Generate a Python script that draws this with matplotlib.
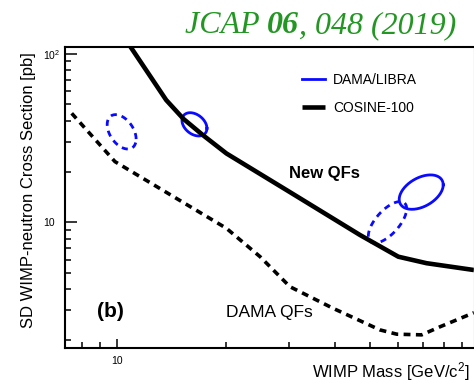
import numpy as np
import matplotlib
matplotlib.use("Agg")
import matplotlib.pyplot as plt
from matplotlib.ticker import FixedLocator, FixedFormatter, NullFormatter

plt.rcParams['font.family'] = ['Liberation Sans', 'DejaVu Sans']
plt.rcParams['mathtext.default'] = 'regular'

# COSINE-100 SD WIMP-neutron limit, new quenching factors (solid)
cosine_mass = [10.47, 13.7, 15.3, 17.3, 20.1, 30.1, 47.0, 60.0, 71.8, 97.1]
cosine_xsec = [125.6, 53.1, 41.0, 32.9, 25.6, 15.1, 8.41, 6.25, 5.72, 5.21]

# same limit with DAMA quenching factors (dashed)
damaqf_mass = [7.51, 9.89, 20.1, 24.9, 30.1, 39.6, 53.4, 59.4, 69.6, 78.2, 97.1]
damaqf_xsec = [44.3, 22.9, 9.21, 6.25, 4.15, 3.09, 2.30, 2.17, 2.15, 2.40, 2.91]

# DAMA/LIBRA allowed regions: centre, half-widths in decades, tilt (deg)
region_mass = [10.32, 16.4, 69.4, 56.0]
region_xsec = [34.4, 38.1, 15.1, 10.0]
region_rx = [0.040, 0.0345, 0.0608, 0.053]
region_ry = [0.102, 0.069, 0.102, 0.123]
region_phi = [115, 110, 65, 49]
region_dashed = [True, False, False, True]


def region_contour(m, s, rx, ry, phi):
    t = np.linspace(0, 2 * np.pi, 200)
    lx = np.log10(m) + rx * np.cos(t)
    ly = np.log10(s) + ry * np.cos(t - np.radians(phi))
    return 10 ** lx, 10 ** ly


fig = plt.figure(figsize=(4.74, 3.83), dpi=100)
ax = fig.add_axes([65 / 474, 1 - 347.5 / 383, 409 / 474, 300.8 / 383])
ax.set_xscale('log')
ax.set_yscale('log')

blue = '#0a0aff'
dama_handle = None
for i in range(len(region_mass)):
    xx, yy = region_contour(region_mass[i], region_xsec[i], region_rx[i],
                            region_ry[i], region_phi[i])
    if region_dashed[i]:
        ax.plot(xx, yy, color=blue, lw=2.0, linestyle=(0, (2.2, 1.8)))
    else:
        l, = ax.plot(xx, yy, color=blue, lw=2.0)
        dama_handle = l

cos_line, = ax.plot(cosine_mass, cosine_xsec, color='black', lw=3.3,
                    solid_capstyle='butt')
ax.plot(damaqf_mass, damaqf_xsec, color='black', lw=2.6,
        linestyle=(0, (1.9, 1.5)))

ax.set_xlim(7.197, 97.1)
ax.set_ylim(1.809, 110.0)

# ticks, ROOT style (inward)
ax.xaxis.set_major_locator(FixedLocator([10]))
ax.xaxis.set_major_formatter(FixedFormatter(['10']))
ax.xaxis.set_minor_locator(FixedLocator([8, 9, 20, 30, 40, 50, 60, 70, 80, 90]))
ax.xaxis.set_minor_formatter(NullFormatter())
ax.yaxis.set_major_locator(FixedLocator([10, 100]))
ax.yaxis.set_major_formatter(FixedFormatter(['10', '$10^2$']))
ax.yaxis.set_minor_locator(FixedLocator([2, 3, 4, 5, 6, 7, 8, 9,
                                         20, 30, 40, 50, 60, 70, 80, 90]))
ax.yaxis.set_minor_formatter(NullFormatter())

ax.tick_params(axis='both', which='both', direction='in', width=1.1,
               top=False, right=False, labelsize=7.5)
ax.tick_params(axis='x', which='major', length=6.5, pad=6)
ax.tick_params(axis='x', which='minor', length=4.0)
ax.tick_params(axis='y', which='major', length=8.5, pad=16)
ax.tick_params(axis='y', which='minor', length=4.5)
for lab in ax.get_yticklabels():
    lab.set_horizontalalignment('left')

for side in ['left', 'bottom', 'top']:
    ax.spines[side].set_linewidth(1.5)
ax.spines['right'].set_color('#d8d8d8')
ax.spines['right'].set_linewidth(1.0)

ax.set_ylabel('SD WIMP-neutron Cross Section [pb]', fontsize=12)
ax.yaxis.set_label_coords(-0.072, 0.524)
ax.set_xlabel('WIMP Mass [GeV/c$^2$]', fontsize=12, ha='right')
ax.xaxis.set_label_coords(0.99, -0.042)

ax.legend([dama_handle, cos_line], ['DAMA/LIBRA', 'COSINE-100'],
          loc='upper left', bbox_to_anchor=(0.579, 0.913), frameon=False,
          fontsize=10, handlelength=1.67, handletextpad=0.6,
          labelspacing=1.0, borderpad=0, borderaxespad=0)

ax.text(0.112, 0.119, '(b)', transform=ax.transAxes, fontsize=15,
        fontweight='bold', ha='center', va='center')
ax.text(0.394, 0.118, 'DAMA QFs', transform=ax.transAxes, fontsize=12.5,
        ha='left', va='center')
ax.text(0.548, 0.580, 'New QFs', transform=ax.transAxes, fontsize=12,
        fontweight='bold', ha='left', va='center')

# journal reference
green = '#239623'
jfont = dict(family='Liberation Serif', style='italic', size=23, color=green)
t1 = fig.text(185 / 474, 1 - 33 / 383, 'JCAP ', va='baseline', **jfont)
a2 = plt.annotate('06', xy=(1, 0), xycoords=t1, va='bottom', ha='left',
                  fontweight='bold', annotation_clip=False, **jfont)
plt.annotate(', 048 (2019)', xy=(1, 0), xycoords=a2, va='bottom', ha='left',
             annotation_clip=False, **jfont)

fig.savefig('out.png', dpi=100)
